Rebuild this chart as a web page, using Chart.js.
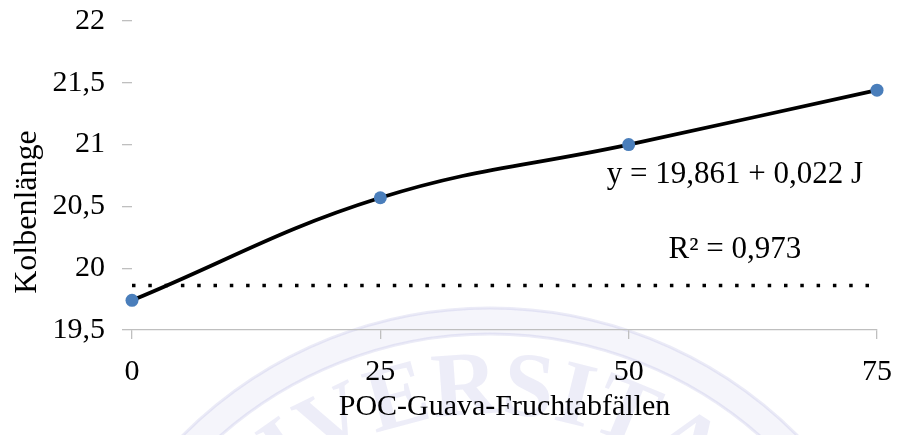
<!DOCTYPE html>
<html>
<head>
<meta charset="utf-8">
<script src="https://cdn.jsdelivr.net/npm/chart.js@4/dist/chart.umd.min.js"></script>
<style>
  html, body { margin: 0; padding: 0; background: #ffffff; }
  #c { display: block; }
</style>
</head>
<body>
<canvas id="c" width="897" height="435"></canvas>
<script>
// Dosis POC (Guava-Fruchtabfälle) und gemessene Kolbenlänge
const doses = [0, 25, 50, 75];
const kolbenlaenge = [19.74, 20.57, 21.0, 21.44];

// Regression
const intercept = 19.861;
const slope = 0.022;
const rSquared = 0.973;

// Achsenteilung
const xTicks = [0, 25, 50, 75];
const yTicks = [19.5, 20, 20.5, 21, 21.5, 22];

const SERIF = '"Liberation Serif", "Times New Roman", serif';
const AXIS_GREY = '#bfbfbf';

const deNum = v => String(v).replace('.', ',');

// Blasses Siegel im Hintergrund
const sealWatermark = {
  id: 'sealWatermark',
  beforeDraw(chart) {
    const { ctx } = chart;
    const cx = 490, cy = 742;
    ctx.save();
    ctx.strokeStyle = 'rgba(110, 110, 200, 0.07)';
    ctx.lineWidth = 26;
    ctx.beginPath(); ctx.arc(cx, cy, 421, 0, Math.PI * 2); ctx.stroke();
    ctx.strokeStyle = 'rgba(110, 110, 200, 0.14)';
    ctx.lineWidth = 3;
    ctx.beginPath(); ctx.arc(cx, cy, 434, 0, Math.PI * 2); ctx.stroke();
    ctx.beginPath(); ctx.arc(cx, cy, 408, 0, Math.PI * 2); ctx.stroke();

    const word = 'UNIVERSITAS';
    const r = 352;
    ctx.font = 'bold 92px ' + SERIF;
    ctx.fillStyle = 'rgba(110, 110, 200, 0.12)';
    ctx.textAlign = 'center';
    ctx.textBaseline = 'middle';
    const widths = [...word].map(ch => ctx.measureText(ch).width + 4);
    const total = widths.reduce((a, b) => a + b, 0);
    let theta = Math.asin((450 - cx) / r) - total / r / 2;
    [...word].forEach((ch, i) => {
      const a = theta + widths[i] / r / 2;
      ctx.save();
      ctx.translate(cx, cy);
      ctx.rotate(a);
      ctx.fillText(ch, 0, -r);
      ctx.restore();
      theta += widths[i] / r;
    });
    ctx.restore();
  }
};

// Beschriftung der Regressionsgleichung und des Bestimmtheitsmaßes
const equationLabels = {
  id: 'equationLabels',
  afterDatasetsDraw(chart) {
    const { ctx, scales: { x, y } } = chart;
    ctx.save();
    ctx.fillStyle = '#000';
    ctx.font = '31px ' + SERIF;
    ctx.textAlign = 'center';
    ctx.textBaseline = 'middle';
    const cx = x.getPixelForValue(60.7);
    ctx.fillText('y = ' + deNum(intercept) + ' + ' + deNum(slope) + ' J', cx, y.getPixelForValue(20.756));
    ctx.fillText('R\u00B2 = ' + deNum(rSquared), cx, y.getPixelForValue(20.148));
    ctx.restore();
  }
};

// Senkrechte Achsenbeschriftung links
const yAxisTitle = {
  id: 'yAxisTitle',
  afterDraw(chart) {
    const { ctx } = chart;
    ctx.save();
    ctx.translate(28, 212);
    ctx.rotate(-Math.PI / 2);
    ctx.fillStyle = '#000';
    ctx.font = '32px ' + SERIF;
    ctx.textAlign = 'center';
    ctx.textBaseline = 'middle';
    ctx.fillText('Kolbenlänge', 0, 0);
    ctx.restore();
  }
};

new Chart(document.getElementById('c'), {
  type: 'line',
  data: {
    datasets: [
      {
        label: 'Kolbenlänge',
        data: doses.map((d, i) => ({ x: d, y: kolbenlaenge[i] })),
        borderColor: '#000000',
        borderWidth: 3.8,
        tension: 0.4,
        pointRadius: 6.5,
        pointHoverRadius: 6.5,
        pointBackgroundColor: '#4a7ebb',
        pointBorderWidth: 0,
        clip: false,
        order: 1
      },
      {
        label: 'Regression',
        data: [{ x: 0, y: intercept }, { x: 75, y: intercept }],
        borderColor: '#000000',
        borderWidth: 3.5,
        borderDash: [3.5, 12.8],
        borderCapStyle: 'butt',
        pointRadius: 0,
        tension: 0,
        clip: false,
        order: 2
      }
    ]
  },
  options: {
    responsive: false,
    animation: false,
    layout: { padding: { top: 21, right: 20, left: 0, bottom: 0 } },
    plugins: {
      legend: { display: false },
      tooltip: { enabled: false }
    },
    scales: {
      x: {
        type: 'linear',
        min: 0,
        max: 75,
        afterBuildTicks: s => { s.ticks = xTicks.map(v => ({ value: v })); },
        afterFit: s => { s.paddingLeft = 0; s.paddingRight = 0; s.height = 105; },
        grid: { drawOnChartArea: false, drawTicks: true, tickLength: 9, color: AXIS_GREY, lineWidth: 1.3 },
        border: { display: true, color: AXIS_GREY, width: 1.3 },
        ticks: { color: '#000', font: { family: SERIF, size: 30 }, padding: 15, maxRotation: 0 },
        title: {
          display: true,
          text: 'POC-Guava-Fruchtabfällen',
          color: '#000',
          font: { family: SERIF, size: 30 },
          padding: { top: 0, bottom: 10 }
        }
      },
      y: {
        min: 19.5,
        max: 22,
        afterBuildTicks: s => { s.ticks = yTicks.map(v => ({ value: v })); },
        afterFit: s => { s.width = 132; s.paddingTop = 0; s.paddingBottom = 0; },
        grid: { drawOnChartArea: false, drawTicks: true, tickLength: 10, color: AXIS_GREY, lineWidth: 1.3 },
        border: { display: false },
        ticks: { color: '#000', font: { family: SERIF, size: 30 }, padding: 17, callback: v => deNum(v) }
      }
    }
  },
  plugins: [sealWatermark, equationLabels, yAxisTitle]
});
</script>
</body>
</html>
